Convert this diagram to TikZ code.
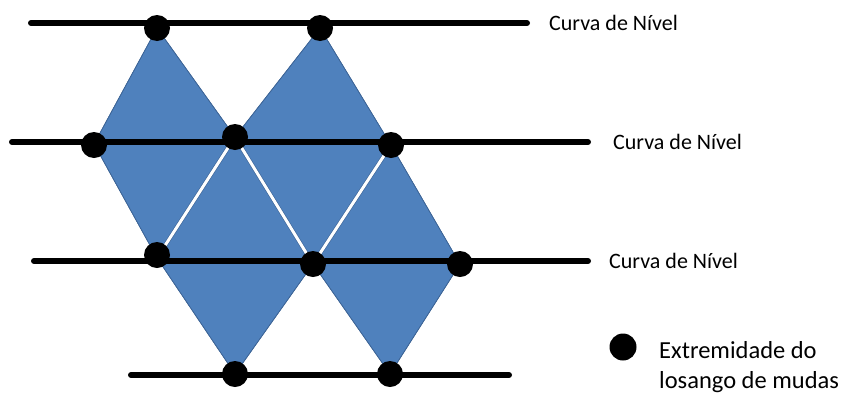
\documentclass[tikz,border=0pt]{standalone}
\usepackage{fontspec}
\setmainfont{Carlito}
\definecolor{dfill}{RGB}{79,129,189}
\definecolor{dedge}{RGB}{60,100,150}
\begin{document}
\begin{tikzpicture}[x=1pt,y=-1pt,
  dot/.style={circle,fill=black,inner sep=0pt,minimum size=26pt},
  curve/.style={line width=6pt,line cap=round,black},
  losango/.style={fill=dfill,draw=dedge,line width=0.6pt,line join=miter},
  gap/.style={white,line width=3pt},
  gapedge/.style={dedge,line width=4.2pt},
  lbl/.style={anchor=base west,inner sep=0pt,font=\fontsize{22}{26}\selectfont,text=black},
  leg/.style={anchor=base west,inner sep=0pt,font=\fontsize{24.5}{30}\selectfont,text=black}]
\useasboundingbox (0,0) rectangle (845,394);
% vertices
\coordinate (t1) at (157,28);
\coordinate (t2) at (320,28);
\coordinate (m1) at (94,144);
\coordinate (m2) at (235,137);
\coordinate (m3) at (391,145);
\coordinate (b1) at (157,258);
\coordinate (b2) at (313,264);
\coordinate (b3) at (460,264);
\coordinate (u1) at (235,374);
\coordinate (u2) at (390,374);
% diamonds
\fill[losango] (t1) -- (m1) -- (b1) -- (m2) -- cycle;
\fill[losango] (t2) -- (m2) -- (b2) -- (m3) -- cycle;
\fill[losango] (m2) -- (b1) -- (u1) -- (b2) -- cycle;
\fill[losango] (m3) -- (b2) -- (u2) -- (b3) -- cycle;
\draw[losango,fill=none] (t1) -- (m1) -- (b1) -- (m2) -- cycle;
\draw[losango,fill=none] (t2) -- (m2) -- (b2) -- (m3) -- cycle;
\draw[losango,fill=none] (m2) -- (b1) -- (u1) -- (b2) -- cycle;
\draw[losango,fill=none] (m3) -- (b2) -- (u2) -- (b3) -- cycle;
% white gaps
\draw[gapedge] (m2) -- (b1) (m2) -- (b2) (m3) -- (b2);
\draw[gap] (m2) -- (b1) (m2) -- (b2) (m3) -- (b2);
% level curves
\coordinate (l1a) at (31,23);  \coordinate (l1b) at (527,23);
\coordinate (l2a) at (12,142); \coordinate (l2b) at (588,142);
\coordinate (l3a) at (34,261); \coordinate (l3b) at (588,261);
\coordinate (l4a) at (131,375); \coordinate (l4b) at (509,375);
\draw[curve] (l1a) -- (l1b);
\draw[curve] (l2a) -- (l2b);
\draw[curve] (l3a) -- (l3b);
\draw[curve] (l4a) -- (l4b);
% dots
\node[dot] (d1) at (157,28) {};
\node[dot] (d2) at (320,28) {};
\node[dot] (d3) at (94,145) {};
\node[dot] (d4) at (235,137) {};
\node[dot] (d5) at (391,145) {};
\node[dot] (d6) at (157,255) {};
\node[dot] (d7) at (313,264) {};
\node[dot] (d8) at (460,264) {};
\node[dot] (d9) at (235,374) {};
\node[dot] (d10) at (390,374) {};
% labels
\node[lbl] (c1) at (549,30) {Curva de Nível};
\node[lbl] (c2) at (613,149) {Curva de Nível};
\node[lbl] (c3) at (609,268) {Curva de Nível};
% legend
\node[dot,minimum size=27pt] (ld) at (623,347) {};
\node[leg] (e1) at (659,358) {Extremidade do};
\node[leg] (e2) at (659,388) {losango de mudas};
\end{tikzpicture}
\end{document}
